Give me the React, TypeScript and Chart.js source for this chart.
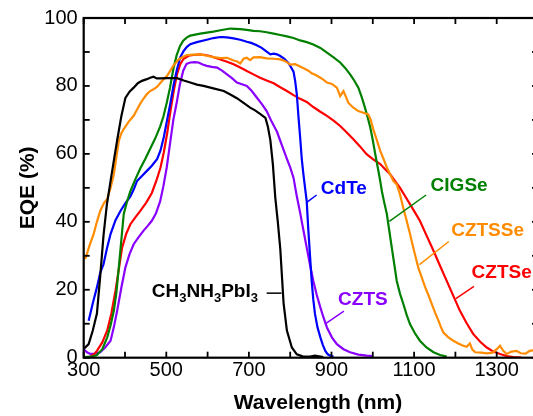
import React, { useEffect, useRef } from "react";
import { Chart, registerables } from "chart.js";

Chart.register(...registerables);

// ---------- data (wavelength nm, EQE %) ----------
const perovskite: [number, number][] = [
  [300, 2.6], [312, 4], [322, 8], [332, 13], [340, 24], [348, 36], [356, 45], [365, 52], [373, 58], [381, 64],
  [391, 71], [401, 76.5], [411, 78.3], [421, 79.5], [431, 80.8], [441, 81.5], [453, 82], [461, 82.4], [469, 82.7],
  [477, 82.2], [485, 82.2], [502, 82.3], [526, 82.3], [542, 81.6], [558, 81], [574, 80.4], [590, 80], [614, 79.3],
  [639, 78.5], [655, 77.5], [671, 76.4], [687, 75], [703, 73.6], [715, 72.8], [727, 71.8], [740, 70.6], [746, 68],
  [752, 64], [758, 57], [764, 47], [770, 40], [776, 32], [784, 16], [792, 8], [804, 3], [816, 1], [830, 0.4],
  [848, 0.3], [860, 0.6], [870, 0.4], [880, 0.2],
];

const cztsse: [number, number][] = [
  [300, 29], [305, 29.5], [314, 33], [324, 36.4], [332, 40], [340, 43.2], [349, 45.5], [357, 46.7], [365, 50],
  [373, 54], [379, 59], [385, 63.8], [391, 66], [397, 67.3], [409, 69.5], [421, 71.2], [429, 73], [437, 74.8],
  [445, 76.3], [453, 77.6], [461, 78.5], [469, 79], [478, 79.8], [490, 81.5], [502, 83], [517, 86], [530, 87.8],
  [541, 88.6], [550, 89.1], [566, 89.2], [582, 89.3], [598, 88.9], [614, 88.5], [631, 88.2], [647, 88.3],
  [663, 87.5], [672, 87.2], [679, 86.6], [687, 88], [695, 88.3], [703, 87.6], [711, 88.4], [727, 88.5],
  [743, 88.1], [760, 88], [776, 87.8], [788, 87.3], [800, 86.3], [812, 86.4], [824, 85.7], [836, 85], [845, 84.4],
  [852, 83.7], [862, 83.2], [873, 82.4], [881, 81.8], [889, 81], [901, 80.6], [913, 79.5], [921, 77], [929, 78.5],
  [935, 76.8], [941, 75], [953, 73.6], [965, 72.6], [977, 72.1], [989, 71.6], [995, 70], [1001, 67.3], [1010, 64],
  [1018, 60.9], [1026, 58.5], [1034, 56], [1042, 54], [1050, 52], [1058, 51], [1066, 48], [1074, 44], [1082, 40.3],
  [1090, 36.5], [1098, 32.4], [1104, 29.5], [1110, 26.6], [1118, 23.8], [1127, 20.7], [1135, 18.3], [1143, 15.8],
  [1151, 13.2], [1159, 10.9], [1165, 9], [1171, 7.4], [1183, 6], [1195, 5], [1207, 4.2], [1219, 3.5], [1227, 3.2],
  [1235, 4.2], [1241, 2.4], [1248, 1.6], [1262, 1.5], [1276, 1.3], [1290, 1.5], [1300, 2.5], [1308, 3.5],
  [1316, 2], [1324, 1.1], [1336, 1.8], [1348, 2], [1358, 1.3], [1370, 1.2], [1380, 2], [1390, 2.2], [1400, 1.5],
];

const cigse: [number, number][] = [
  [300, 0.2], [320, 0.3], [332, 0.8], [345, 2.5], [357, 6], [365, 9.5], [373, 13.8], [379, 19], [385, 26.6],
  [391, 34.5], [397, 42.3], [405, 46], [413, 49], [425, 52.5], [437, 55.7], [449, 58.5], [461, 61.5], [473, 64.5],
  [485, 68], [493, 71], [501, 75], [509, 79.5], [517, 85], [525, 89], [533, 91.7], [541, 93.3], [550, 94.3],
  [558, 94.8], [570, 95.1], [582, 95.4], [598, 95.7], [614, 96], [631, 96.4], [655, 96.9], [679, 96.7], [695, 96.5],
  [711, 96.2], [727, 96.1], [743, 95.8], [760, 95.4], [776, 95], [792, 94.6], [808, 94.1], [824, 93.4], [840, 92.9],
  [856, 92.2], [873, 91.2], [889, 89.8], [905, 88.4], [921, 86.9], [933, 85.3], [945, 83.4], [955, 81.6],
  [965, 79.5], [973, 76.8], [981, 73.6], [988, 70.6], [994, 67.7], [1000, 64], [1006, 59.9], [1012, 56],
  [1018, 52], [1022, 49], [1028, 45.5], [1034, 42.3], [1040, 37.3], [1046, 32.4], [1052, 27.5], [1058, 22.6],
  [1066, 18.8], [1074, 15.8], [1082, 12.6], [1090, 9.9], [1102, 7.2], [1114, 5], [1130, 3], [1147, 1.6],
  [1163, 0.8], [1179, 0.3],
];

const cdte: [number, number][] = [
  [312, 10.9], [322, 16], [332, 20.7], [340, 25], [348, 27.5], [356, 32], [365, 36.4], [377, 40.5], [389, 43.2],
  [401, 45.5], [413, 47.5], [421, 49.5], [429, 52], [441, 53.5], [453, 55], [465, 56.5], [478, 58.5], [486, 61],
  [494, 65], [502, 70], [510, 75], [518, 80.5], [526, 85], [534, 88.5], [542, 90.3], [550, 91.5], [558, 92.3],
  [574, 92.9], [598, 93.6], [614, 94.1], [631, 94.4], [647, 94.3], [663, 94], [679, 93.6], [695, 93], [707, 92.6],
  [719, 92], [731, 91.2], [743, 90.1], [752, 89.3], [760, 89.5], [768, 89.3], [776, 88.8], [786, 88], [796, 86.7],
  [802, 85.5], [808, 84.2], [812, 81.5], [816, 77.5], [820, 71], [824, 65], [828, 58.5], [832, 54], [836, 50],
  [840, 46], [844, 37.4], [848, 30], [852, 22.6], [856, 17], [860, 12.9], [866, 9], [873, 6], [879, 3.8],
  [885, 2], [891, 1], [897, 0.6], [905, 0.3],
];

const cztse: [number, number][] = [
  [315, 0.2], [325, 1], [332, 2], [345, 4.5], [357, 8], [367, 13], [377, 19.7], [385, 26], [393, 32.4],
  [403, 36.5], [413, 39.3], [425, 41.3], [437, 43.2], [451, 45.6], [465, 48.5], [477, 52.5], [486, 56],
  [494, 60.5], [502, 66], [510, 72.5], [518, 78.5], [526, 83.5], [534, 86.5], [542, 88], [554, 88.9], [566, 89.1],
  [582, 89.3], [594, 89.1], [606, 88.8], [618, 88.3], [631, 87.8], [647, 87.1], [663, 86.4], [679, 85.4],
  [695, 84.4], [711, 83.4], [727, 82.4], [743, 81.6], [760, 80.8], [776, 79.6], [792, 78.5], [808, 77.3],
  [824, 76.2], [840, 75.3], [856, 73.8], [873, 72.4], [889, 71.2], [905, 69.8], [921, 68.2], [937, 66.3],
  [953, 64.3], [969, 62.2], [985, 59.9], [1001, 58.4], [1018, 57], [1030, 55.5], [1042, 54], [1054, 52],
  [1066, 50], [1078, 47.6], [1090, 45.2], [1102, 42.8], [1114, 40.3], [1130, 36], [1147, 31.5], [1163, 27],
  [1179, 22.6], [1195, 18.2], [1211, 13.8], [1227, 10.2], [1243, 7], [1260, 4.7], [1276, 3], [1292, 1.8],
  [1308, 1.1], [1324, 0.5], [1340, 0.2], [1360, 0],
];

const czts: [number, number][] = [
  [300, 2.5], [308, 1.6], [316, 1.1], [328, 1.2], [340, 1.6], [352, 3], [365, 5], [373, 9], [381, 13.8],
  [391, 20.5], [401, 26.6], [411, 30.5], [421, 33.4], [433, 35.5], [445, 37.4], [455, 38.8], [465, 40.3],
  [475, 42.5], [485, 46], [493, 50.5], [501, 56], [509, 63], [517, 70], [525, 75], [533, 80.5], [541, 84.5],
  [549, 86.5], [558, 86.9], [568, 87], [578, 86.9], [588, 86.3], [598, 85.9], [610, 85.6], [623, 85.4],
  [635, 84.5], [647, 83.4], [659, 82.3], [671, 81], [683, 80.5], [695, 80], [707, 78.5], [719, 76.6], [731, 74.7],
  [743, 72.6], [755, 69.5], [768, 66.5], [780, 62.5], [792, 58.5], [800, 56], [808, 53], [816, 47.5], [824, 42.7],
  [832, 37.5], [840, 32.4], [848, 27.3], [856, 22.6], [864, 18.6], [873, 14.8], [881, 11.7], [889, 8.9], [901, 6],
  [913, 4], [929, 2.5], [945, 1.6], [965, 0.9], [985, 0.6], [1000, 0.5],
];

const X_MIN = 300;
const X_MAX = 1400;
const X_LABELED = [300, 500, 700, 900, 1100, 1300];
const Y_LABELED = [0, 20, 40, 60, 80, 100];

const series = [
  { name: "CH3NH3PbI3", data: perovskite, color: "#000000" },
  { name: "CZTSSe", data: cztsse, color: "#ff8c00" },
  { name: "CIGSe", data: cigse, color: "#008000" },
  { name: "CdTe", data: cdte, color: "#0000ff" },
  { name: "CZTSe", data: cztse, color: "#ff0000" },
  { name: "CZTS", data: czts, color: "#8a00ff" },
];

// label anchors in data units (text centre x, baseline y) and leader lines
const labels = [
  { text: "CdTe", color: "#0000ff", x: 930, y: 48.2, from: [864, 47.9], to: [840, 45.7] },
  { text: "CIGSe", color: "#008000", x: 1209, y: 49.1, from: [1129, 47.9], to: [1040, 40.1] },
  { text: "CZTSSe", color: "#ff8c00", x: 1278, y: 35.9, from: [1184, 34.2], to: [1113, 27.4] },
  { text: "CZTSe", color: "#ff0000", x: 1312, y: 23.6, from: [1245, 21], to: [1201, 17.4] },
  { text: "CZTS", color: "#8a00ff", x: 976, y: 15.4, from: [930, 13.7], to: [884, 9.9] },
];
const pvkLabel = { parts: [["CH", 0], ["3", 1], ["NH", 0], ["3", 1], ["PbI", 0], ["3", 1]], x: 465, y: 17.8, from: [743, 19], to: [779, 19] };

const FONT = "'Liberation Sans', Arial, Helvetica, sans-serif";
const W = 548;
const H = 416;
const PLOT_LEFT = 83.7;
const PLOT_TOP = 16.2;
const PLOT_BOTTOM = 357.7;
const PLOT_RIGHT = 538;

const framePlugin = {
  id: "frameAndNotes",
  afterDraw(chart: any) {
    const { ctx, chartArea: a, scales } = chart;
    const xs = scales.x;
    const ys = scales.y;
    const seg = (x1: number, y1: number, x2: number, y2: number) => {
      ctx.beginPath();
      ctx.moveTo(x1, y1);
      ctx.lineTo(x2, y2);
      ctx.stroke();
    };
    ctx.save();
    ctx.strokeStyle = "#000";
    ctx.lineWidth = 1.8;
    const TL = 6;
    xs.ticks.forEach((t: any) => {
      const px = xs.getPixelForValue(t.value);
      seg(px, a.bottom, px, a.bottom - TL);
      seg(px, a.top, px, a.top + TL);
    });
    ys.ticks.forEach((t: any) => {
      const py = ys.getPixelForValue(t.value);
      seg(a.left, py, a.left + TL, py);
      seg(a.right, py, a.right - TL, py);
    });
    ctx.lineWidth = 2.2;
    ctx.strokeRect(a.left, a.top, a.right - a.left, a.bottom - a.top);

    // axis titles
    ctx.fillStyle = "#000";
    ctx.font = `bold 21px ${FONT}`;
    ctx.textAlign = "center";
    ctx.textBaseline = "alphabetic";
    ctx.fillText("Wavelength (nm)", 318, 408.5);
    ctx.save();
    ctx.translate(33.5, (a.top + a.bottom) / 2);
    ctx.rotate(-Math.PI / 2);
    ctx.fillText("EQE (%)", 0, 0);
    ctx.restore();

    // curve labels
    ctx.lineWidth = 1.5;
    ctx.font = `bold 19px ${FONT}`;
    labels.forEach((l) => {
      ctx.fillStyle = l.color;
      ctx.strokeStyle = l.color;
      ctx.textAlign = "center";
      ctx.fillText(l.text, xs.getPixelForValue(l.x), ys.getPixelForValue(l.y));
      seg(xs.getPixelForValue(l.from[0]), ys.getPixelForValue(l.from[1]), xs.getPixelForValue(l.to[0]), ys.getPixelForValue(l.to[1]));
    });
    ctx.fillStyle = "#000";
    ctx.strokeStyle = "#000";
    ctx.textAlign = "left";
    let cx = xs.getPixelForValue(pvkLabel.x);
    const by = ys.getPixelForValue(pvkLabel.y);
    pvkLabel.parts.forEach(([txt, sub]) => {
      ctx.font = sub ? `bold 13px ${FONT}` : `bold 19px ${FONT}`;
      ctx.fillText(txt as string, cx, by + (sub ? 4.5 : 0));
      cx += ctx.measureText(txt as string).width;
    });
    seg(xs.getPixelForValue(pvkLabel.from[0]), ys.getPixelForValue(pvkLabel.from[1]), xs.getPixelForValue(pvkLabel.to[0]), ys.getPixelForValue(pvkLabel.to[1]));
    ctx.restore();
  },
};

export default function App() {
  const ref = useRef<HTMLCanvasElement>(null);
  useEffect(() => {
    const canvas = ref.current;
    if (!canvas) return;
    const chart = new Chart(canvas, {
      type: "line",
      data: {
        datasets: series.map((s) => ({
          label: s.name,
          data: s.data.map(([x, y]) => ({ x, y })),
          borderColor: s.color,
          backgroundColor: s.color,
          borderWidth: 2.2,
          pointRadius: 0,
          tension: 0,
          fill: false,
        })),
      },
      options: {
        responsive: false,
        animation: false,
        devicePixelRatio: 1,
        layout: { padding: { left: 0, top: PLOT_TOP, right: W - PLOT_RIGHT, bottom: 0 } },
        plugins: { legend: { display: false }, tooltip: { enabled: false } },
        scales: {
          x: {
            type: "linear",
            min: X_MIN,
            max: X_MAX,
            ticks: {
              stepSize: 100,
              autoSkip: false,
              maxRotation: 0,
              padding: 1,
              color: "#000",
              font: { family: FONT, size: 20 },
              callback: (v: any) => (X_LABELED.includes(Number(v)) ? String(v) : ""),
            },
            grid: { display: false, drawTicks: false },
            border: { display: false },
            afterFit: (s: any) => {
              s.height = H - PLOT_BOTTOM;
            },
          },
          y: {
            type: "linear",
            min: 0,
            max: 100,
            ticks: {
              stepSize: 10,
              padding: 6,
              color: "#000",
              font: { family: FONT, size: 20 },
              callback: (v: any) => (Y_LABELED.includes(Number(v)) ? String(v) : ""),
            },
            grid: { display: false, drawTicks: false },
            border: { display: false },
            afterFit: (s: any) => {
              s.width = PLOT_LEFT;
            },
          },
        },
      },
      plugins: [framePlugin],
    } as any);
    return () => chart.destroy();
  }, []);
  return (
    <div style={{ position: "fixed", left: 0, top: 0, width: 533, height: 416, overflow: "hidden", background: "#fff" }}>
      <canvas ref={ref} width={W} height={H} style={{ display: "block", width: W, height: H }} />
    </div>
  );
}
